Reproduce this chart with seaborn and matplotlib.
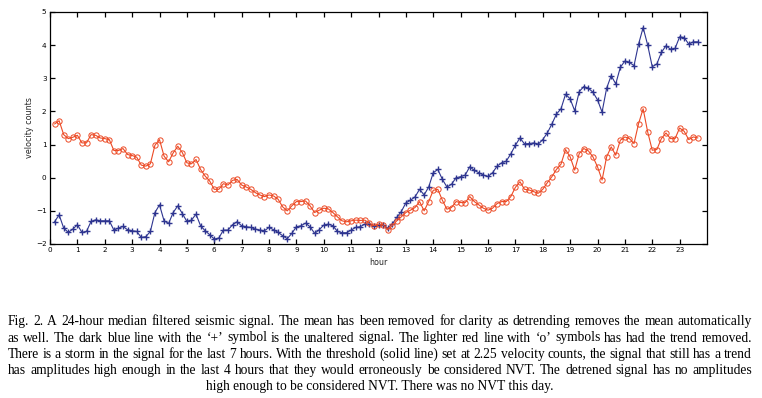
import numpy as np
import pandas as pd
import seaborn as sns
import matplotlib
matplotlib.use("Agg")
import matplotlib.pyplot as plt

# sample times: every 10 minutes (hours)
hours = np.arange(1, 143) / 6.0

# dark blue '+' : unaltered signal
unaltered = [
    -1.33, -1.12, -1.52, -1.65, -1.55, -1.42, -1.65, -1.62, -1.32, -1.27,
    -1.30, -1.30, -1.30, -1.58, -1.52, -1.47, -1.57, -1.60, -1.62, -1.80,
    -1.78, -1.62, -1.05, -0.82, -1.30, -1.38, -1.05, -0.85, -1.08, -1.32,
    -1.28, -1.10, -1.45, -1.60, -1.72, -1.85, -1.82, -1.58, -1.58, -1.42,
    -1.33, -1.45, -1.48, -1.50, -1.55, -1.58, -1.60, -1.50, -1.57, -1.65,
    -1.75, -1.84, -1.68, -1.48, -1.45, -1.37, -1.48, -1.68, -1.57, -1.43,
    -1.40, -1.45, -1.62, -1.66, -1.66, -1.58, -1.50, -1.48, -1.40, -1.40,
    -1.45, -1.44, -1.42, -1.52, -1.40, -1.20, -1.02, -0.76, -0.68, -0.58,
    -0.35, -0.52, -0.28, 0.15, 0.25, -0.05, -0.28, -0.20, 0.00, 0.03,
    0.08, 0.33, 0.22, 0.15, 0.08, 0.04, 0.15, 0.35, 0.45, 0.50,
    0.72, 0.98, 1.20, 1.02, 1.03, 1.05, 1.01, 1.15, 1.35, 1.62,
    1.92, 2.08, 2.52, 2.38, 2.02, 2.60, 2.75, 2.70, 2.58, 2.35,
    1.98, 2.70, 3.08, 2.83, 3.33, 3.52, 3.48, 3.38, 4.03, 4.53,
    4.00, 3.35, 3.43, 3.78, 3.98, 3.88, 3.90, 4.25, 4.23, 4.03,
    4.10, 4.10,
]

# lighter red 'o' : detrended signal
detrended = [
    1.62, 1.72, 1.30, 1.18, 1.22, 1.28, 1.05, 1.05, 1.30, 1.28,
    1.20, 1.18, 1.15, 0.82, 0.82, 0.88, 0.70, 0.67, 0.62, 0.38,
    0.35, 0.42, 0.98, 1.15, 0.65, 0.48, 0.75, 0.95, 0.76, 0.45,
    0.42, 0.55, 0.25, 0.05, -0.10, -0.35, -0.35, -0.18, -0.22, -0.08,
    -0.05, -0.22, -0.28, -0.35, -0.45, -0.52, -0.57, -0.52, -0.55, -0.65,
    -0.88, -1.00, -0.85, -0.72, -0.72, -0.70, -0.85, -1.05, -0.98, -0.92,
    -0.94, -1.05, -1.18, -1.30, -1.33, -1.30, -1.28, -1.29, -1.28, -1.37,
    -1.45, -1.40, -1.42, -1.57, -1.45, -1.30, -1.18, -1.05, -0.98, -0.90,
    -0.72, -1.00, -0.72, -0.38, -0.35, -0.68, -0.95, -0.90, -0.72, -0.75,
    -0.75, -0.57, -0.72, -0.82, -0.92, -0.98, -0.92, -0.78, -0.72, -0.72,
    -0.57, -0.29, -0.12, -0.35, -0.37, -0.42, -0.47, -0.35, -0.15, 0.03,
    0.25, 0.41, 0.85, 0.63, 0.23, 0.73, 0.88, 0.81, 0.63, 0.33,
    -0.07, 0.63, 0.93, 0.68, 1.13, 1.23, 1.18, 1.03, 1.63, 2.08,
    1.38, 0.83, 0.85, 1.18, 1.35, 1.18, 1.18, 1.50, 1.40, 1.15,
    1.23, 1.20,
]

x_ticks = list(range(0, 24))
y_ticks = list(range(-2, 6))

caption_lines = [
    "Fig. 2. A 24-hour median filtered seismic signal. The mean has been removed for clarity as detrending removes the mean automatically",
    "as well. The dark blue line with the \u2018+\u2019 symbol is the unaltered signal. The lighter red line with \u2018o\u2019 symbols has had the trend removed.",
    "There is a storm in the signal for the last 7 hours. With the threshold (solid line) set at 2.25 velocity counts, the signal that still has a trend",
    "has amplitudes high enough in the last 4 hours that they would erroneously be considered NVT. The detrened signal has no amplitudes",
]
caption_last = "high enough to be considered NVT. There was no NVT this day."

sns.set_theme(style="ticks")
plt.rcParams["font.family"] = ["DejaVu Sans"]

W, H = 762, 398
fig = plt.figure(figsize=(W / 100, H / 100), dpi=100)
ax = fig.add_axes([50 / W, 1 - 244 / H, (707 - 50) / W, (244 - 12) / H])

df = pd.DataFrame({"hour": hours, "unaltered": unaltered, "detrended": detrended})

blue = "#2e3590"
red = "#ec4a25"
sns.lineplot(data=df, x="hour", y="unaltered", ax=ax, color=blue, lw=0.8,
             marker="+", markersize=5, markeredgewidth=1.0, markeredgecolor=blue)
sns.lineplot(data=df, x="hour", y="detrended", ax=ax, color=red, lw=0.8,
             marker="o", markersize=3.8, markerfacecolor="none",
             markeredgewidth=0.7, markeredgecolor=red)

ax.set_xlim(0, 24)
ax.set_ylim(-2, 5)
ax.set_xticks(x_ticks)
ax.set_yticks(y_ticks)
ax.tick_params(direction="in", length=3.5, width=0.9, labelsize=5.2,
               top=True, right=True, pad=2.5, colors="black")
for s in ax.spines.values():
    s.set_visible(True)
    s.set_linewidth(0.9)
    s.set_color("black")
ax.set_xlabel("hour", fontsize=5.8, labelpad=3)
ax.set_ylabel("velocity counts", fontsize=5.8, labelpad=1)
ax.grid(False)

# caption (justified lines)
fig.canvas.draw()
renderer = fig.canvas.get_renderer()
x0, x1 = 8 / W, 752 / W

# size the caption font so the first line fits its width with normal spacing
probe = fig.text(0, 0, caption_lines[0], family="Liberation Serif", size=10)
natural = probe.get_window_extent(renderer=renderer).width
probe.remove()
cap_size = 10 * (x1 - x0) * W / natural * 0.985
cap_font = dict(family="Liberation Serif", size=cap_size, color="black")

line_y = [321.5, 338.0, 354.5, 370.5]
for line, yy in zip(caption_lines, line_y):
    words = line.split(" ")
    widths = []
    for w in words:
        t = fig.text(0, 0, w, **cap_font)
        bb = t.get_window_extent(renderer=renderer)
        widths.append(bb.width / W)
        t.remove()
    gap = (x1 - x0 - sum(widths)) / (len(words) - 1)
    xx = x0
    for w, wd in zip(words, widths):
        fig.text(xx, 1 - yy / H, w, va="center", ha="left", **cap_font)
        xx += wd + gap
fig.text(380 / W, 1 - 386.5 / H, caption_last, va="center", ha="center", **cap_font)

fig.savefig("out.png", dpi=100, facecolor="white")
